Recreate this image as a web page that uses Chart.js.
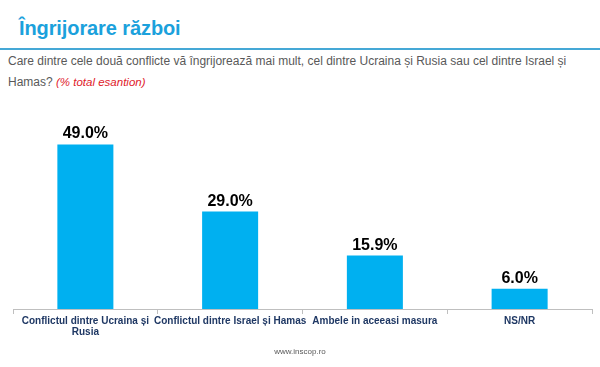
<!DOCTYPE html>
<html><head><meta charset="utf-8">
<script src="https://cdn.jsdelivr.net/npm/chart.js@4/dist/chart.umd.min.js"></script>
<style>
html,body{margin:0;padding:0;background:#fff;width:600px;height:367px;overflow:hidden;font-family:"Liberation Sans",Arial,sans-serif;}
#title{position:absolute;left:19px;top:16px;font-size:20px;line-height:24px;font-weight:bold;color:#1ba1dc;letter-spacing:-0.1px;}
#rule{position:absolute;left:0;top:48px;width:600px;height:2px;background:#45a8d6;}
#q{position:absolute;left:8px;top:51px;width:592px;font-size:12px;line-height:21px;color:#595959;}
#q i{color:#e0202a;font-size:11.5px;}
#footer{position:absolute;left:0;width:600px;top:347px;text-align:center;font-size:8px;color:#595959;}
#wrap{position:absolute;left:0;top:100px;width:600px;height:259px;}
</style></head>
<body>
<div id="title">Îngrijorare război</div>
<div id="rule"></div>
<div id="q">Care dintre cele două conflicte vă îngrijorează mai mult, cel dintre Ucraina și Rusia sau cel dintre Israel și<br>Hamas? <i>(% total esantion)</i></div>
<div id="wrap"><canvas id="c" width="600" height="259"></canvas></div>
<div id="footer">www.inscop.ro</div>
<script>
const categories = [["Conflictul dintre Ucraina și","Rusia"], "Conflictul dintre Israel și Hamas", "Ambele in aceeasi masura", "NS/NR"];
const values = [49.0, 29.0, 15.9, 6.0];

const labelPlugin = {
  id: 'valLabels',
  afterDatasetsDraw(chart) {
    const ctx = chart.ctx;
    const meta = chart.getDatasetMeta(0);
    ctx.save();
    ctx.font = 'bold 16px "Liberation Sans", Arial, sans-serif';
    ctx.fillStyle = '#000';
    ctx.textAlign = 'center';
    ctx.textBaseline = 'alphabetic';
    meta.data.forEach((bar, i) => {
      ctx.fillText(values[i].toFixed(1) + '%', bar.x, bar.y - 6);
    });
    ctx.restore();
  }
};

new Chart(document.getElementById('c'), {
  type: 'bar',
  data: { labels: categories, datasets: [{ data: values, backgroundColor: '#00b0f0', barPercentage: 0.387, categoryPercentage: 1 }] },
  options: {
    responsive: false, animation: false,
    layout: { padding: { left: 13, right: 8, top: 29, bottom: 0 } },
    plugins: { legend: { display: false }, tooltip: { enabled: false } },
    scales: {
      y: { display: false, min: 0, max: 53.6 },
      x: {
        afterFit(s) { s.height = 50; },
        border: { color: '#bfbfbf', width: 1 },
        grid: { offset: true, drawOnChartArea: false, drawTicks: true, tickLength: 5, color: '#bfbfbf' },
        ticks: { color: '#1f3864', font: { family: '"Liberation Sans", Arial, sans-serif', size: 10, weight: 'bold', lineHeight: 1.15 }, maxRotation: 0, autoSkip: false, padding: 1 }
      }
    }
  },
  plugins: [labelPlugin]
});
</script>
</body></html>
